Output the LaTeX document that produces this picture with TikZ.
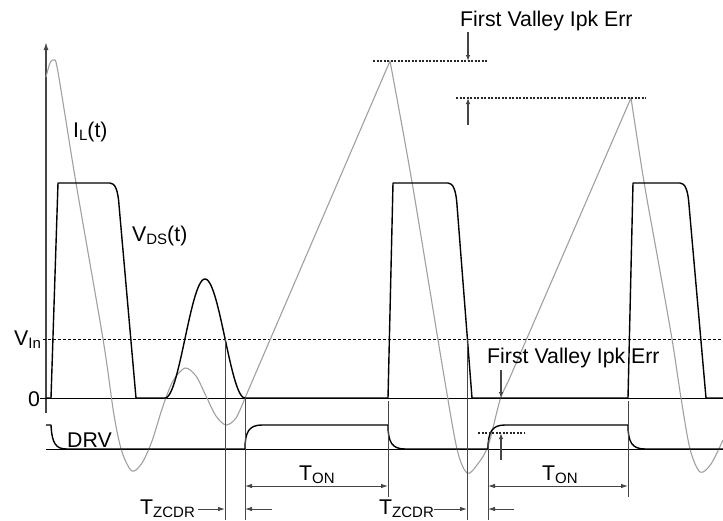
\documentclass[tikz,border=0pt]{standalone}
\usepackage{fontspec}
\setmainfont{Liberation Sans}
\usetikzlibrary{arrows.meta}
\definecolor{curgray}{RGB}{160,160,160}
\definecolor{dimgray}{RGB}{70,70,70}
\newcommand{\lsub}[1]{\raisebox{-3.5pt}{\fontsize{15}{15}\selectfont #1}}
\begin{document}
\begin{tikzpicture}[x=1pt,y=-1pt,
  lbl/.style={font=\fontsize{21.3}{25}\selectfont, inner sep=0pt, anchor=base west},
  wave/.style={line width=1.4pt, line join=round},
  cur/.style={line width=1.1pt, color=curgray, line join=round},
  thinl/.style={line width=0.9pt, color=black},
  vline/.style={line width=1pt, color=dimgray},
  dimarr/.style={line width=0.9pt, color=dimgray, -{Latex[length=7pt,width=4.5pt]}},
  dimboth/.style={line width=0.9pt, color=dimgray, {Latex[length=7pt,width=4.5pt]}-{Latex[length=7pt,width=4.5pt]}},
  errarr/.style={line width=1.6pt, color=dimgray, -{Latex[length=6pt,width=4.5pt]}},
  dotl/.style={line width=1.2pt, color=black!85, dash pattern=on 2pt off 1.5pt},
  dashl/.style={line width=0.9pt, dash pattern=on 3pt off 2pt}
]
\useasboundingbox (0,0) rectangle (723,520);

% axis
\coordinate (axb) at (46,413);
\coordinate (axt) at (46,42);
\draw[line width=1.5pt, color=dimgray, -{Latex[length=8pt,width=5pt]}] (axb) -- (axt);

% reference lines
\coordinate (z0) at (40,398);  \coordinate (z1) at (723,398);
\coordinate (v0) at (43,339);  \coordinate (v1) at (723,339);
\coordinate (d0) at (46,449);  \coordinate (d1) at (723,449);
\draw[thinl] (z0) -- (z1);
\draw[dashl] (v0) -- (v1);
\draw[thinl] (d0) -- (d1);

% inductor current (gray)
\draw[cur] plot[smooth, tension=0.5] coordinates {(46,77) (50,63) (54,60) (58,72) (76,183) (103,339) (114,415) (122,452) (132,471) (142,463) (152,441) (163,406) (173,381) (185,368) (196,376) (206,396) (216,416) (226,425) (236,418) (245,398)}
  -- plot[smooth, tension=0.5] coordinates {(390,61) (412,182) (443,370) (457,449) (467,473) (477,465) (488,446) (500,400) (508,382)}
  -- plot[smooth, tension=0.5] coordinates {(631,98) (644,182) (658,260) (672,339) (681,398) (690,449) (700,472) (711,464) (723,440)};

% VDS (black)
\draw[wave] (46,398) -- (51,398) -- (58,183) -- (110,183) .. controls (115,183) and (118,190) .. (119,205) -- (136,398) -- (165,398)
  -- plot[domain=165:245, samples=60] (\x,{398-59.5*(1-cos(4.5*(\x-165)))})
  -- (388,398) -- (393,183) -- (448,183) .. controls (453,183) and (456,190) .. (457,205) -- (472,398)
  -- (628,398) -- (633,183) -- (680,183) .. controls (685,183) and (688,190) .. (689,205) -- (706,398) -- (723,398);

% DRV (black)
\draw[wave] (46,425) -- (51,425) .. controls (52,444) and (56,449) .. (67,449) -- (245,449)
  .. controls (245,432) and (249,425) .. (262,425) -- (388,425)
  .. controls (388,442) and (392,449) .. (405,449) -- (488,449)
  .. controls (488,432) and (492,425) .. (505,425) -- (628,425)
  .. controls (628,442) and (632,449) .. (645,449) -- (723,449);

% vertical timing lines
\coordinate (a1) at (225,339); \coordinate (a2) at (225,520);
\coordinate (b1) at (245,398); \coordinate (b2) at (245,520);
\coordinate (c1) at (388,401); \coordinate (c2) at (388,497);
\coordinate (e1) at (467,339); \coordinate (e2) at (467,520);
\coordinate (f1) at (488,440); \coordinate (f2) at (488,520);
\coordinate (g1) at (628,401); \coordinate (g2) at (628,497);
\draw[vline] (a1) -- (a2);
\draw[vline] (b1) -- (b2);
\draw[vline] (c1) -- (c2);
\draw[vline] (e1) -- (e2);
\draw[vline] (f1) -- (f2);
\draw[vline] (g1) -- (g2);

% T_ON arrows
\coordinate (ton1a) at (245,486); \coordinate (ton1b) at (388,486);
\coordinate (ton2a) at (488,486); \coordinate (ton2b) at (628,486);
\draw[dimboth] (ton1a) -- (ton1b);
\draw[dimboth] (ton2a) -- (ton2b);

% T_ZCDR arrows
\coordinate (tz1s) at (198,509); \coordinate (tz1e) at (225,509);
\coordinate (tz1r) at (272,509); \coordinate (tz1f) at (245,509);
\coordinate (tz2s) at (434,509); \coordinate (tz2e) at (467,509);
\coordinate (tz2r) at (514,509); \coordinate (tz2f) at (488,509);
\draw[dimarr] (tz1s) -- (tz1e);
\draw[dimarr] (tz1r) -- (tz1f);
\draw[dimarr] (tz2s) -- (tz2e);
\draw[dimarr] (tz2r) -- (tz2f);

% First Valley Ipk Err (top)
\coordinate (p1a) at (373,61); \coordinate (p1b) at (488,61);
\coordinate (p2a) at (456,98); \coordinate (p2b) at (646,98);
\draw[dotl] (p1a) -- (p1b);
\draw[dotl] (p2a) -- (p2b);
\coordinate (ea1) at (468,32); \coordinate (ea2) at (468,61);
\coordinate (eb1) at (468,125); \coordinate (eb2) at (468,98);
\draw[errarr] (ea1) -- (ea2);
\draw[errarr] (eb1) -- (eb2);

% First Valley Ipk Err (bottom)
\coordinate (q1a) at (478,433); \coordinate (q1b) at (524,433);
\draw[dotl] (q1a) -- (q1b);
\coordinate (fa1) at (501,370); \coordinate (fa2) at (501,398);
\coordinate (fb1) at (501,460); \coordinate (fb2) at (501,433);
\draw[errarr] (fa1) -- (fa2);
\draw[errarr] (fb1) -- (fb2);

% labels
\node[lbl] (errtop) at (460,26) {First Valley Ipk Err};
\node[lbl] (errbot) at (487,363) {First Valley Ipk Err};
\node[lbl] (il) at (73,137) {I\lsub{L}(t)};
\node[lbl] (vds) at (132,241) {V\lsub{DS}(t)};
\node[lbl] (vin) at (14,345) {V\lsub{In}};
\node[lbl] (zero) at (28,406) {0};
\node[lbl] (drv) at (67,447) {DRV};
\node[lbl] (ton1) at (299,480) {T\lsub{ON}};
\node[lbl] (ton2) at (542,480) {T\lsub{ON}};
\node[lbl] (tz1) at (140,514) {T\lsub{ZCDR}};
\node[lbl] (tz2) at (379,514) {T\lsub{ZCDR}};
\end{tikzpicture}
\end{document}
